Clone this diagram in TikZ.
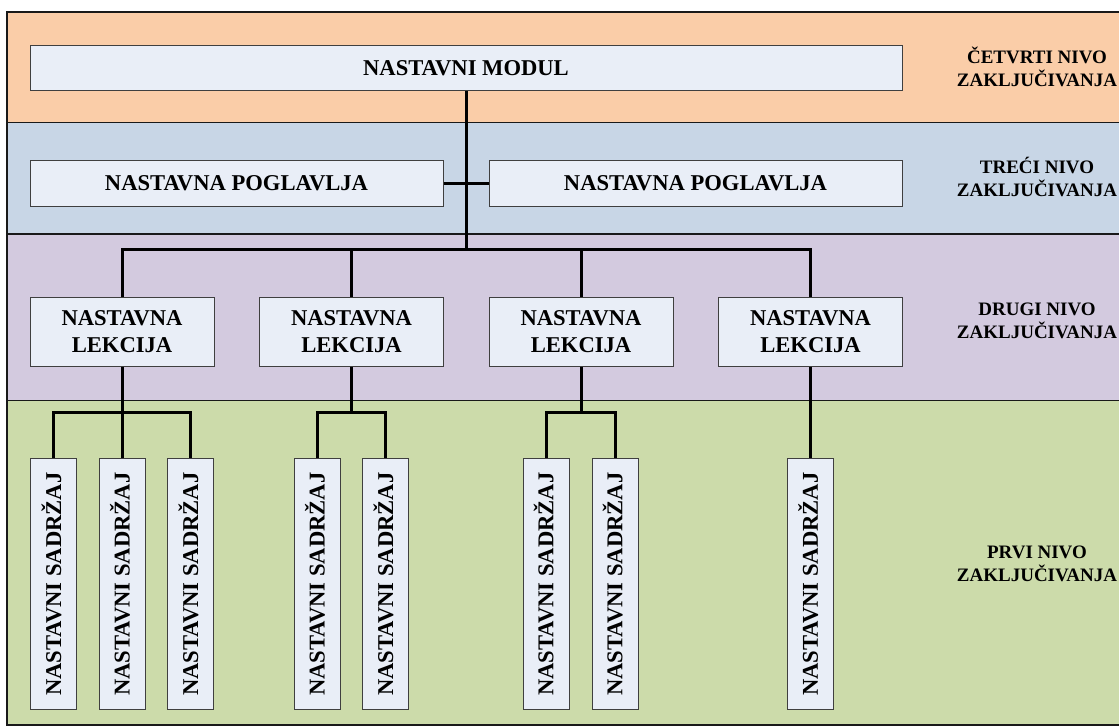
\documentclass[tikz,border=0pt]{standalone}
\usepackage{fontspec}
\setmainfont{Liberation Serif}
\usepackage{graphicx}

\definecolor{bandorange}{HTML}{FACDA8}
\definecolor{bandblue}{HTML}{C8D6E6}
\definecolor{bandpurple}{HTML}{D3CADF}
\definecolor{bandgreen}{HTML}{CCDBAA}
\definecolor{boxfill}{HTML}{E9EEF7}
\definecolor{boxline}{HTML}{3F3F3F}

% one line of capitals: height of a capital, no depth, accents ignored
\newcommand\capline[1]{\vphantom{N}\smash{#1}}
\newcommand\content{\rotatebox{90}{\capline{NASTAVNI SADRŽAJ}}}

\begin{document}
\begin{tikzpicture}[x=1pt,y=-1pt,
  bandline/.style={draw=black!90, line width=1.3pt},
  unit/.style={draw=boxline, line width=1pt, fill=boxfill, inner sep=0pt,
    font=\fontsize{22.6}{26.7}\selectfont\bfseries, align=center},
  widebox/.style={unit, minimum width=872pt, minimum height=45pt},
  chapterbox/.style={unit, minimum width=413pt, minimum height=46pt},
  lessonbox/.style={unit, minimum width=184pt, minimum height=68.7pt},
  contentbox/.style={unit, minimum width=46pt, minimum height=251pt},
  conn/.style={draw=black, line width=3pt},
  levellabel/.style={font=\fontsize{19}{23}\selectfont\bfseries, align=center, inner sep=0pt}
]
\useasboundingbox (0,0) rectangle (1119,726);

% level bands
\fill[bandorange] (7,12) rectangle (1130,122.7);
\fill[bandblue]   (7,122.7) rectangle (1130,234);
\fill[bandpurple] (7,234) rectangle (1130,400.7);
\fill[bandgreen]  (7,400.7) rectangle (1130,725);
\draw[bandline] (1130,12) -- (7,12) -- (7,725) -- (1130,725);
\draw[bandline] (7,122.7) -- (1130,122.7);
\draw[bandline] (7,234) -- (1130,234);
\draw[bandline] (7,400.7) -- (1130,400.7);

% level labels
\node[levellabel] (lab4) at (1037,69.2)  {\capline{ČETVRTI NIVO}\\\capline{ZAKLJUČIVANJA}};
\node[levellabel] (lab3) at (1037,178.7) {\capline{TREĆI NIVO}\\\capline{ZAKLJUČIVANJA}};
\node[levellabel] (lab2) at (1037,320.7) {\capline{DRUGI NIVO}\\\capline{ZAKLJUČIVANJA}};
\node[levellabel] (lab1) at (1037,563.7) {\capline{PRVI NIVO}\\\capline{ZAKLJUČIVANJA}};

% module
\node[widebox] (modul) at (466,68.2) {\capline{NASTAVNI MODUL}};

% chapters
\node[chapterbox] (p1) at (236.5,183) {\capline{NASTAVNA POGLAVLJA}};
\node[chapterbox] (p2) at (695.5,183) {\capline{NASTAVNA POGLAVLJA}};

% lessons
\node[lessonbox] (l1) at (122,331.7)   {\capline{NASTAVNA}\\\capline{LEKCIJA}};
\node[lessonbox] (l2) at (351.5,331.7) {\capline{NASTAVNA}\\\capline{LEKCIJA}};
\node[lessonbox] (l3) at (581,331.7)   {\capline{NASTAVNA}\\\capline{LEKCIJA}};
\node[lessonbox] (l4) at (810.5,331.7) {\capline{NASTAVNA}\\\capline{LEKCIJA}};

% contents
\node[contentbox] (s11) at (53.7,584)  {\content};
\node[contentbox] (s12) at (122.2,584) {\content};
\node[contentbox] (s13) at (190.7,584) {\content};
\node[contentbox] (s21) at (317.1,584) {\content};
\node[contentbox] (s22) at (385.6,584) {\content};
\node[contentbox] (s31) at (546,584)   {\content};
\node[contentbox] (s32) at (615,584)   {\content};
\node[contentbox] (s41) at (810.5,584) {\content};

% connectors: module -> lessons
\coordinate (hub) at (modul.south |- 0,249.3);
\draw[conn] (modul.south) -- (hub);
\draw[conn] (p1.east) -- (p2.west);
\draw[conn] (hub) -| (l1.north);
\draw[conn] (hub) -| (l2.north);
\draw[conn] (hub) -| (l3.north);
\draw[conn] (hub) -| (l4.north);

% connectors: lessons -> contents
\coordinate (h1) at (l1.south |- 0,412.3);
\coordinate (h2) at (l2.south |- 0,412.3);
\coordinate (h3) at (l3.south |- 0,412.3);
\draw[conn] (l1.south) -- (h1);
\draw[conn] (h1) -| (s11.north);
\draw[conn] (h1) -| (s12.north);
\draw[conn] (h1) -| (s13.north);
\draw[conn] (l2.south) -- (h2);
\draw[conn] (h2) -| (s21.north);
\draw[conn] (h2) -| (s22.north);
\draw[conn] (l3.south) -- (h3);
\draw[conn] (h3) -| (s31.north);
\draw[conn] (h3) -| (s32.north);
\draw[conn] (l4.south) -- (s41.north);
\end{tikzpicture}
\end{document}
